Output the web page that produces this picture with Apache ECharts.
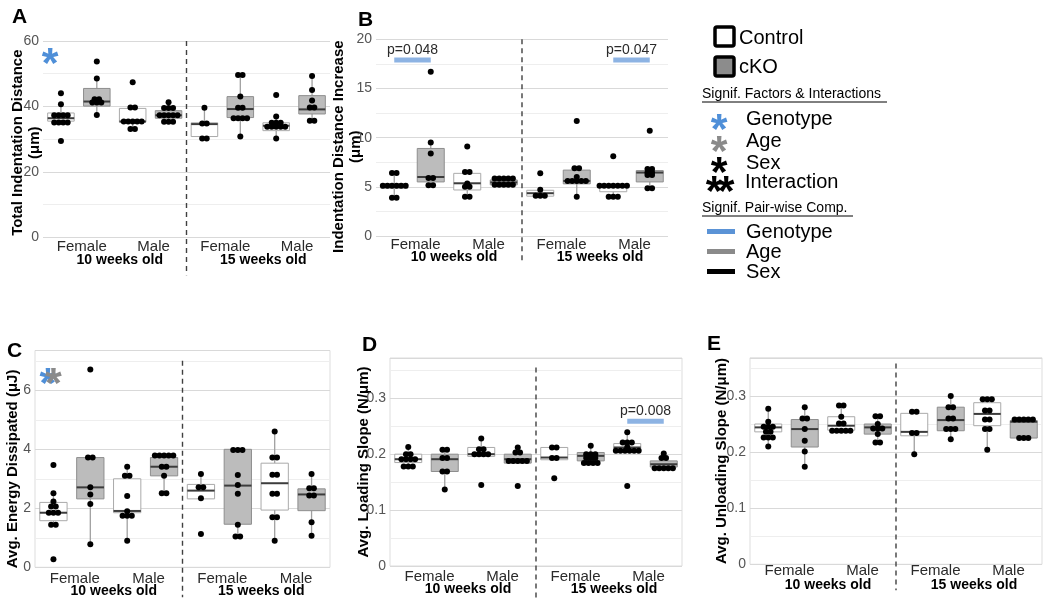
<!DOCTYPE html>
<html><head><meta charset="utf-8">
<script src="https://cdn.jsdelivr.net/npm/echarts@6/dist/echarts.min.js"></script>
<style>html,body{margin:0;padding:0;background:#fff}#c{width:1050px;height:608px}</style>
</head><body><div id="c"></div>
<script>
// ---------------- DATA ----------------
const groupNames = ['Female 10wk Control','Female 10wk cKO','Male 10wk Control','Male 10wk cKO',
                    'Female 15wk Control','Female 15wk cKO','Male 15wk Control','Male 15wk cKO'];
const genotypeOfGroup = ['Control','cKO','Control','cKO','Control','cKO','Control','cKO'];
const sexLabels = ['Female','Male','Female','Male'];
const ageLabels = ['10 weeks old','15 weeks old'];

// Panel A: Total Indentation Distance (µm)
const pointsA = [
  [44.0,40.7,37.3,37.3,37.3,37.3,35.1,35.1,35.1,35.1,29.4],
  [53.7,48.5,42.2,42.2,41.2,41.2,41.2,37.4],
  [47.4,39.7,39.7,35.4,35.4,35.4,35.4,35.4,33.1,33.1],
  [41.3,39.5,39.5,39.5,37.3,37.3,37.3,37.3,37.3,35.3,35.3,35.3],
  [39.6,34.8,34.8,30.2,30.2],
  [49.6,49.6,43.0,39.6,39.6,36.4,36.4,36.4,36.4,30.8],
  [43.5,36.9,35.0,35.0,35.0,33.8,33.8,33.8,33.8,33.8,30.2],
  [49.3,45.0,41.8,39.7,39.7,35.6,35.6]
];
const boxA = [ // [min, q1, median, q3, max]
  [35.1,35.5,36.4,38.0,40.7],[37.4,40.1,41.5,45.5,48.5],[33.1,35.2,35.4,39.4,39.7],[35.3,36.4,37.3,38.7,41.3],
  [30.2,30.8,34.6,35.0,39.6],[30.8,36.6,39.2,43.0,49.6],[30.2,32.6,34.1,35.0,36.9],[35.6,37.7,39.1,43.3,49.3]
];
// Panel B: Indentation Distance Increase (µm)
const pointsB = [
  [6.4,6.4,5.1,5.1,5.1,5.1,5.1,5.1,3.9,3.9],
  [16.7,9.5,8.4,5.9,5.9,5.15,5.15],
  [9.1,6.5,6.5,5.35,5.0,5.0,4.0,4.0],
  [5.85,5.85,5.85,5.85,5.85,5.2,5.2,5.2,5.2,5.2],
  [6.37,4.7,4.1,4.1,4.1],
  [11.7,6.9,6.9,6.0,5.6,5.6,5.6,5.6,5.6,4.0],
  [8.1,5.1,5.1,5.1,5.1,5.1,5.1,5.1,4.0,4.0,4.0],
  [10.7,6.8,6.8,6.45,6.45,6.2,6.2,4.85,4.85]
];
const boxB = [
  [3.9,4.85,5.1,5.3,6.4],[5.15,5.5,6.0,8.9,9.5],[4.0,4.68,5.36,6.37,6.5],[5.2,5.2,5.45,5.7,5.85],
  [4.05,4.05,4.35,4.65,4.7],[4.0,5.3,5.6,6.7,6.9],[4.0,4.5,5.05,5.2,5.2],[4.85,5.5,6.45,6.65,6.8]
];
// Panel C: Avg. Energy Dissipated (µJ)
const pointsC = [
  [3.47,2.51,2.23,2.06,2.06,1.85,1.85,1.85,1.44,1.44,0.27],
  [6.71,3.72,3.72,2.71,2.47,2.15,0.78],
  [3.41,3.1,3.1,2.42,1.9,1.75,1.75,1.75,0.9],
  [3.79,3.79,3.79,3.79,3.79,3.41,3.41,3.1,2.51,2.51],
  [3.16,2.71,2.71,2.34,1.13],
  [3.98,3.98,3.98,3.13,2.79,2.49,1.44,1.04,1.04],
  [4.6,3.72,3.72,3.14,3.14,2.49,2.49,1.7,1.7,0.9],
  [3.16,2.68,2.68,2.43,2.43,1.53,1.07]
];
const boxC = [
  [1.44,1.58,1.85,2.2,2.51],[0.78,2.32,2.71,3.72,3.72],[0.9,1.85,1.91,3.0,3.41],[2.51,3.1,3.41,3.72,3.79],
  [2.32,2.32,2.6,2.81,3.16],[1.04,1.46,2.77,4.0,4.0],[0.9,1.94,2.85,3.53,4.6],[1.07,1.92,2.47,2.66,3.16]
];
// Panel D: Avg. Loading Slope (N/µm)
const pointsD = [
  [0.213,0.2,0.2,0.191,0.191,0.191,0.191,0.178,0.178,0.178],
  [0.208,0.208,0.193,0.193,0.169,0.169,0.137],
  [0.228,0.209,0.209,0.2,0.2,0.2,0.2,0.145],
  [0.212,0.203,0.203,0.188,0.188,0.188,0.188,0.188,0.143],
  [0.212,0.212,0.193,0.193,0.157],
  [0.215,0.2,0.2,0.2,0.193,0.193,0.193,0.184,0.184,0.184,0.184],
  [0.239,0.221,0.221,0.221,0.213,0.206,0.206,0.206,0.206,0.206,0.206,0.143],
  [0.201,0.193,0.193,0.175,0.175,0.175,0.175,0.175]
];
const boxD = [
  [0.178,0.185,0.191,0.2,0.213],[0.137,0.169,0.191,0.2,0.208],[0.196,0.196,0.2,0.212,0.228],[0.184,0.184,0.191,0.2,0.212],
  [0.19,0.19,0.194,0.212,0.212],[0.184,0.188,0.197,0.203,0.215],[0.204,0.204,0.212,0.219,0.239],[0.175,0.177,0.182,0.188,0.201]
];
// Panel E: Avg. Unloading Slope (N/µm)
const pointsE = [
  [0.277,0.254,0.245,0.245,0.245,0.236,0.236,0.226,0.226,0.226,0.21],
  [0.28,0.26,0.26,0.241,0.22,0.201,0.174],
  [0.283,0.283,0.263,0.251,0.251,0.238,0.238,0.238,0.238,0.238],
  [0.264,0.264,0.25,0.242,0.242,0.242,0.232,0.217,0.217],
  [0.272,0.272,0.234,0.234,0.196],
  [0.3,0.28,0.28,0.26,0.26,0.241,0.241,0.241,0.223],
  [0.294,0.294,0.294,0.274,0.274,0.258,0.258,0.241,0.241,0.204],
  [0.258,0.258,0.258,0.258,0.258,0.225,0.225,0.225]
];
const boxE = [
  [0.21,0.236,0.244,0.25,0.277],[0.174,0.209,0.241,0.258,0.28],[0.238,0.239,0.247,0.263,0.283],[0.217,0.232,0.244,0.25,0.264],
  [0.196,0.229,0.236,0.269,0.272],[0.223,0.238,0.257,0.28,0.3],[0.204,0.247,0.268,0.288,0.294],[0.225,0.225,0.254,0.256,0.258]
];
// significance annotations: [fromGroup, toGroup, y, label]
const pBarsB = [[0,1,17.9,'p=0.048'],[6,7,17.9,'p=0.047']];
const pBarsD = [[6,7,0.259,'p=0.008']];
// significant factor asterisks: [x (group units), y, factor]
const starsA = [[-0.3,56,'Genotype']];
const starsC = [[-0.15,6.55,'Genotype'],[0.0,6.55,'Age']];

// ---------------- STYLE / LAYOUT ----------------
const FONT = '"Liberation Sans", Arial, Helvetica, sans-serif';
const BLUE_STAR = '#4f8fd8', GREY_STAR = '#8a8a8a', BLUE_BAR = '#8db3e3';
const factorColor = {Genotype: BLUE_STAR, Age: GREY_STAR, Sex: '#000'};
const FILL = {Control: '#ffffff', cKO: '#bcbcbc'};
const STROKE = {Control: '#aaaaaa', cKO: '#8e8e8e'};
const MEDIAN = '#3c3c3c', WHISKER = '#a0a0a0';
const DOT = 6, STEP = 0.125, BOX_FRAC = 0.74;

const panels = [
  {letter:'A', lx:12, ly:17, points:pointsA, box:boxA, bars:[], stars:starsA,
   grid:{left:43, top:41, width:287, height:196.3}, max:60, interval:10, labelStep:20,
   name:'Total Indentation Distance\n(μm)', nameGap:0, namePad:[0,7,0,0], border:false,
   sexMargin:2.5, ageMargin:16, dashTop:60, dashExt:38},
  {letter:'B', lx:358, ly:20, points:pointsB, box:boxB, bars:pBarsB, stars:[],
   grid:{left:376, top:39.3, width:292, height:196.7}, max:20, interval:2.5, labelStep:5,
   name:'Indentation Distance Increase\n(μm)', nameGap:12, namePad:[0,18,0,0], border:false,
   sexMargin:1.5, ageMargin:14, dashTop:20, dashExt:27},
  {letter:'C', lx:7, ly:351, points:pointsC, box:boxC, bars:[], stars:starsC,
   grid:{left:35, top:350.5, width:295, height:216.8}, max:7.35, interval:1, labelStep:2,
   name:'Avg. Energy Dissipated (μJ)', nameGap:14, namePad:[0,20,0,0], border:true,
   sexMargin:4.5, ageMargin:17, dashTop:7, dashExt:30},
  {letter:'D', lx:362, ly:345, points:pointsD, box:boxD, bars:pBarsD, stars:[],
   grid:{left:390, top:358, width:292, height:208}, max:0.372, interval:0.05, labelStep:0.1,
   name:'Avg. Loading Slope (N/μm)', nameGap:18, namePad:[0,0,0,0], border:true,
   sexMargin:3, ageMargin:16, dashTop:0.355, dashExt:34},
  {letter:'E', lx:707, ly:344, points:pointsE, box:boxE, bars:[], stars:[],
   grid:{left:750, top:357.8, width:292, height:206.5}, max:0.368, interval:0.05, labelStep:0.1,
   name:'Avg. Unloading Slope (N/μm)', nameGap:20, namePad:[0,0,0,0], border:true,
   sexMargin:-1, ageMargin:13.5, dashTop:0.358, dashExt:26}
];

function isMultiple(v, step) { const r = v / step; return Math.abs(r - Math.round(r)) < 1e-6; }

function swarm(groups) {
  const out = [];
  groups.forEach((vals, gi) => {
    const counts = {}, seen = {};
    vals.forEach(v => { counts[v] = (counts[v] || 0) + 1; });
    vals.forEach(v => {
      const k = counts[v];
      const j = seen[v] = (seen[v] === undefined ? 0 : seen[v] + 1);
      out.push([gi + (j - (k - 1) / 2) * STEP, v]);
    });
  });
  return out;
}

function starText(x, y, color) {
  const fs = 43;
  return {type:'text', x:x, y:y + 0.26 * fs,
    style:{text:'*', fill:color, fontSize:fs, fontWeight:'bold', fontFamily:FONT, align:'center', verticalAlign:'middle'}};
}

const grids = [], xAxes = [], yAxes = [], series = [];
panels.forEach((p, k) => {
  grids.push(Object.assign({show:p.border, borderColor:'#dddddd', borderWidth:1, backgroundColor:'transparent',
    outerBoundsMode:'none', containLabel:false}, p.grid));
  const vx = xAxes.length;
  xAxes.push({type:'value', gridIndex:k, min:-0.5, max:7.5, show:false});
  xAxes.push({type:'category', gridIndex:k, data:sexLabels, position:'bottom', offset:0,
    axisLine:{show:false}, axisTick:{show:false}, splitLine:{show:false},
    axisLabel:{margin:p.sexMargin, fontSize:15, color:'#2a2a2a', fontFamily:FONT, padding:[0,0,0,6], interval:0}});
  xAxes.push({type:'category', gridIndex:k, data:ageLabels, position:'bottom', offset:0,
    axisLine:{show:false}, axisTick:{show:false}, splitLine:{show:false},
    axisLabel:{margin:p.ageMargin, fontSize:14, fontWeight:'bold', color:'#000', fontFamily:FONT, padding:[0,0,0,10], interval:0}});
  yAxes.push({type:'value', gridIndex:k, min:0, max:p.max, interval:p.interval,
    name:p.name, nameLocation:'middle', nameRotate:90, nameGap:p.nameGap, nameMoveOverlap:false,
    nameTextStyle:{fontSize:15, fontWeight:'bold', color:'#000', fontFamily:FONT, lineHeight:17, padding:p.namePad},
    axisLine:{show:false}, axisTick:{show:false},
    axisLabel:{fontSize:14, color:'#555', fontFamily:FONT, margin:4, showMaxLabel:true,
      formatter: v => (isMultiple(v, p.labelStep) && v <= p.max) ? String(parseFloat(v.toFixed(3))) : ''},
    splitLine:{show:true, lineStyle:{color:['#d9d9d9','#eeeeee'], width:1}}});

  // dashed separator between ages
  series.push({type:'custom', xAxisIndex:vx, yAxisIndex:k, silent:true, z:1, clip:false,
    data:[[3.5, p.dashTop]],
    renderItem:(params, api) => {
      const t = api.coord([api.value(0), api.value(1)]);
      const b = api.coord([api.value(0), 0]);
      return {type:'line', shape:{x1:t[0], y1:t[1], x2:b[0], y2:b[1] + p.dashExt},
        style:{stroke:'#404040', lineWidth:1.4, lineDash:[5,4]}};
    }});
  // boxes
  series.push({type:'custom', xAxisIndex:vx, yAxisIndex:k, z:2, silent:true,
    data:p.box.map((b, i) => [i, b[0], b[1], b[2], b[3], b[4], genotypeOfGroup[i] === 'cKO' ? 1 : 0]),
    encode:{x:0, y:[1,2,3,4,5]},
    renderItem:(params, api) => {
      const i = api.value(0);
      const pMin = api.coord([i, api.value(1)]), pQ1 = api.coord([i, api.value(2)]);
      const pMed = api.coord([i, api.value(3)]), pQ3 = api.coord([i, api.value(4)]);
      const pMax = api.coord([i, api.value(5)]);
      const w = api.size([1, 0])[0] * BOX_FRAC;
      const g = api.value(6) === 1 ? 'cKO' : 'Control';
      return {type:'group', children:[
        {type:'line', shape:{x1:pMin[0], y1:pMin[1], x2:pQ1[0], y2:pQ1[1]}, style:{stroke:WHISKER, lineWidth:1.3}},
        {type:'line', shape:{x1:pQ3[0], y1:pQ3[1], x2:pMax[0], y2:pMax[1]}, style:{stroke:WHISKER, lineWidth:1.3}},
        {type:'rect', shape:{x:pQ1[0] - w / 2, y:pQ3[1], width:w, height:Math.max(pQ1[1] - pQ3[1], 1)},
          style:{fill:FILL[g], stroke:STROKE[g], lineWidth:1}},
        {type:'line', shape:{x1:pMed[0] - w / 2, y1:pMed[1], x2:pMed[0] + w / 2, y2:pMed[1]}, style:{stroke:MEDIAN, lineWidth:2}}
      ]};
    }});
  // data points
  series.push({type:'scatter', xAxisIndex:vx, yAxisIndex:k, z:3, silent:true,
    symbol:'circle', symbolSize:DOT, itemStyle:{color:'#000', opacity:1}, data:swarm(p.points)});
  // pair-wise comparison bars
  if (p.bars.length) {
    series.push({type:'custom', xAxisIndex:vx, yAxisIndex:k, z:4, silent:true, clip:false,
      data:p.bars.map(b => [b[0], b[1], b[2]]),
      renderItem:(params, api) => {
        const a = api.coord([api.value(0), api.value(2)]);
        const c = api.coord([api.value(1), api.value(2)]);
        return {type:'group', children:[
          {type:'rect', shape:{x:a[0], y:a[1] - 2.5, width:c[0] - a[0], height:5}, style:{fill:BLUE_BAR}},
          {type:'text', x:(a[0] + c[0]) / 2, y:a[1] - 10,
            style:{text:p.bars[params.dataIndex][3], fill:'#2a2a2a', fontSize:14, fontFamily:FONT, align:'center', verticalAlign:'middle'}}
        ]};
      }});
  }
  // significant factor asterisks
  if (p.stars.length) {
    series.push({type:'custom', xAxisIndex:vx, yAxisIndex:k, z:4, silent:true, clip:false,
      data:p.stars.map(s => [s[0], s[1]]),
      renderItem:(params, api) => {
        const c = api.coord([api.value(0), api.value(1)]);
        return starText(c[0], c[1], factorColor[p.stars[params.dataIndex][2]]);
      }});
  }
});

// ---------------- LEGEND & PANEL LETTERS (graphics) ----------------
const graphics = [];
panels.forEach(p => graphics.push({type:'text', x:p.lx, y:p.ly,
  style:{text:p.letter, fontSize:21, fontWeight:'bold', fill:'#000', fontFamily:FONT, align:'left', verticalAlign:'middle'}}));
function legText(txt, x, y, size) {
  return {type:'text', x:x, y:y, style:{text:txt, fontSize:size, fill:'#000', fontFamily:FONT, align:'left', verticalAlign:'middle'}};
}
graphics.push({type:'rect', shape:{x:715, y:27, width:19, height:19, r:2}, style:{fill:'#fff', stroke:'#000', lineWidth:3.5}});
graphics.push(legText('Control', 739, 38, 20));
graphics.push({type:'rect', shape:{x:715, y:57, width:19, height:19, r:2}, style:{fill:'#8c8c8c', stroke:'#000', lineWidth:3.5}});
graphics.push(legText('cKO', 739, 67, 20));
graphics.push(legText('Signif. Factors & Interactions', 702, 94, 14));
graphics.push({type:'line', shape:{x1:702, y1:102, x2:887, y2:102}, style:{stroke:'#000', lineWidth:1}});
graphics.push(starText(719, 120, BLUE_STAR));
graphics.push(legText('Genotype', 746, 119, 20));
graphics.push(starText(719, 142, GREY_STAR));
graphics.push(legText('Age', 746, 141, 20));
graphics.push(starText(719, 163, '#000'));
graphics.push(legText('Sex', 746, 163, 20));
graphics.push(starText(714, 182, '#000'));
graphics.push(starText(726, 182, '#000'));
graphics.push(legText('Interaction', 745, 182, 20));
graphics.push(legText('Signif. Pair-wise Comp.', 702, 208, 14));
graphics.push({type:'line', shape:{x1:702, y1:216, x2:853, y2:216}, style:{stroke:'#000', lineWidth:1}});
graphics.push({type:'rect', shape:{x:707, y:229, width:28, height:5}, style:{fill:'#5b93d6'}});
graphics.push(legText('Genotype', 746, 232, 20));
graphics.push({type:'rect', shape:{x:707, y:249, width:28, height:5}, style:{fill:'#8a8a8a'}});
graphics.push(legText('Age', 746, 252, 20));
graphics.push({type:'rect', shape:{x:707, y:269, width:28, height:5}, style:{fill:'#000'}});
graphics.push(legText('Sex', 746, 272, 20));

const chart = echarts.init(document.getElementById('c'), null, {renderer:'canvas'});
chart.setOption({
  animation:false, backgroundColor:'#fff',
  textStyle:{fontFamily:FONT},
  grid:grids, xAxis:xAxes, yAxis:yAxes, series:series, graphic:graphics
});
</script></body></html>
